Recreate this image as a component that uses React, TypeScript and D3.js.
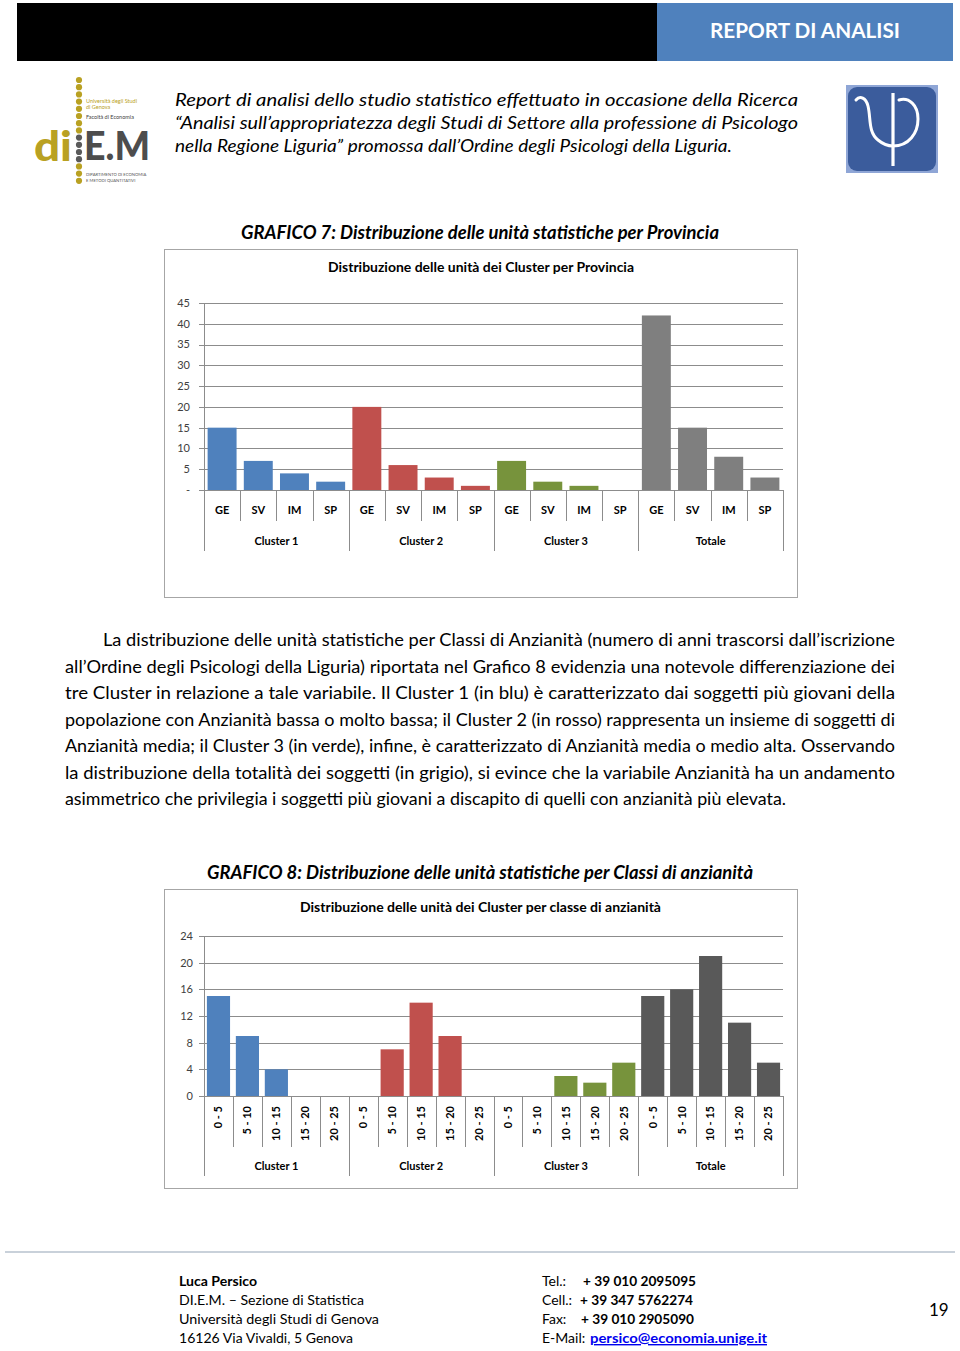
import React from "react";
import * as d3 from "d3";

// ---------- DATA ----------
const provinces = ["GE", "SV", "IM", "SP"];
const clusterGroups = ["Cluster 1", "Cluster 2", "Cluster 3", "Totale"];
const provCluster1 = [15, 7, 4, 2];
const provCluster2 = [20, 6, 3, 1];
const provCluster3 = [7, 2, 1, 0];
const provTotale = [42, 15, 8, 3];
const provTicks = [0, 5, 10, 15, 20, 25, 30, 35, 40, 45];

const ageClasses = ["0 - 5", "5 - 10", "10 - 15", "15 - 20", "20 - 25"];
const ageCluster1 = [15, 9, 4, 0, 0];
const ageCluster2 = [0, 7, 14, 9, 0];
const ageCluster3 = [0, 0, 3, 2, 5];
const ageTotale = [15, 16, 21, 11, 5];
const ageTicks = [0, 4, 8, 12, 16, 20, 24];

const headerLines = [
  "Report di analisi dello studio statistico effettuato in occasione della Ricerca",
  "\u201CAnalisi sull\u2019appropriatezza degli Studi di Settore alla professione di Psicologo",
  "nella Regione Liguria\u201D  promossa dall\u2019Ordine degli Psicologi della Liguria.",
];

const paragraphLines = [
  "La distribuzione delle unità statistiche per Classi di Anzianità (numero di anni trascorsi dall\u2019iscrizione",
  "all\u2019Ordine degli Psicologi della Liguria) riportata nel Grafico 8 evidenzia una notevole differenziazione dei",
  "tre Cluster in relazione a tale variabile. Il Cluster 1 (in blu) è caratterizzato dai soggetti più giovani della",
  "popolazione con Anzianità bassa o molto bassa; il Cluster 2 (in rosso) rappresenta un insieme di soggetti di",
  "Anzianità media; il Cluster 3 (in verde), infine, è caratterizzato di Anzianità media o medio alta. Osservando",
  "la distribuzione della totalità dei soggetti (in grigio), si evince che la variabile Anzianità ha un andamento",
  "asimmetrico che privilegia i soggetti  più giovani a discapito di quelli con anzianità più elevata.",
];

const FONT = "Lato, 'Open Sans', sans-serif";
const BLUE = "#4F81BD";
const RED = "#C0504D";
const GREEN = "#77933C";

type ChartProps = {
  cats: string[];
  groups: string[];
  series: number[][];
  colors: string[];
  ticks: number[];
  tickFmt: (v: number) => string;
  x0: number;
  x1: number;
  yTop: number;
  yBottom: number;
  tickLabelX: number;
  catTickBottom: number;
  groupTickBottom: number;
  catLabelY: number;
  groupLabelY: number;
  rotate: boolean;
};

function GroupedBarChart(p: ChartProps) {
  const flat = p.groups.flatMap((g, gi) =>
    p.cats.map((c, ci) => ({
      key: `${gi}-${ci}`,
      cat: c,
      gi,
      ci,
      value: p.series[gi][ci],
      color: p.colors[gi],
    }))
  );
  const pad = 0.2;
  const x = d3
    .scaleBand<string>()
    .domain(flat.map((d) => d.key))
    .range([p.x0, p.x1])
    .paddingInner(pad)
    .paddingOuter(pad / 2);
  const yMax = d3.max(p.ticks) as number;
  const y = d3.scaleLinear().domain([0, yMax]).range([p.yBottom, p.yTop]);
  const step = x.step();
  const n = flat.length;
  const gridColor = "#8c8c8c";
  const seps = d3.range(n + 1);
  return (
    <g>
      {p.ticks.map((t) => (
        <g key={t}>
          <line
            x1={p.x0 - 5}
            x2={p.x1}
            y1={Math.round(y(t)) + 0.5}
            y2={Math.round(y(t)) + 0.5}
            stroke={gridColor}
            strokeWidth={1}
          />
          <text
            x={p.tickLabelX}
            y={y(t)}
            dy="0.35em"
            textAnchor="end"
            fontSize={11}
            fill="#404040"
            fontFamily={FONT}
          >
            {p.tickFmt(t)}
          </text>
        </g>
      ))}
      <line
        x1={p.x0 + 0.5}
        x2={p.x0 + 0.5}
        y1={p.yTop}
        y2={p.yBottom}
        stroke={gridColor}
      />
      {flat.map((d) => (
        <rect
          key={d.key}
          x={x(d.key)}
          width={x.bandwidth()}
          y={y(d.value)}
          height={y(0) - y(d.value)}
          fill={d.color}
        />
      ))}
      {seps.map((i) => {
        const xx = Math.round(p.x0 + i * step) + 0.5;
        const isGroup = i % p.cats.length === 0;
        return (
          <line
            key={i}
            x1={xx}
            x2={xx}
            y1={p.yBottom}
            y2={isGroup ? p.groupTickBottom : p.catTickBottom}
            stroke={gridColor}
          />
        );
      })}
      {flat.map((d) => {
        const cx = (x(d.key) as number) + x.bandwidth() / 2;
        return p.rotate ? (
          <text
            key={"l" + d.key}
            transform={`translate(${cx},${p.catLabelY}) rotate(-90)`}
            textAnchor="end"
            dy="0.35em"
            fontSize={11}
            fontWeight="bold"
            fontFamily={FONT}
            fill="#000"
          >
            {d.cat}
          </text>
        ) : (
          <text
            key={"l" + d.key}
            x={cx}
            y={p.catLabelY}
            dy="0.35em"
            textAnchor="middle"
            fontSize={11}
            fontWeight="bold"
            fontFamily={FONT}
            fill="#000"
          >
            {d.cat}
          </text>
        );
      })}
      {p.groups.map((g, gi) => {
        const cx = p.x0 + (gi + 0.5) * p.cats.length * step;
        return (
          <text
            key={g}
            x={cx}
            y={p.groupLabelY}
            dy="0.35em"
            textAnchor="middle"
            fontSize={11}
            fontWeight="bold"
            fontFamily={FONT}
            fill="#000"
          >
            {g}
          </text>
        );
      })}
    </g>
  );
}

function DiemLogo() {
  const dots = d3.range(15).map((i) => 80 + i * 7.2);
  return (
    <g>
      {dots.map((cy, i) => (
        <circle
          key={i}
          cx={79}
          cy={cy}
          r={3.1}
          fill={i >= 8 && i <= 11 ? "#5a5a5a" : "#b9a122"}
        />
      ))}
      <text x={86} y={103} fontSize={5.5} fill="#b9a122" fontFamily={FONT}>
        Università degli Studi
      </text>
      <text x={86} y={109} fontSize={5.5} fill="#b9a122" fontFamily={FONT}>
        di Genova
      </text>
      <text x={86} y={119} fontSize={5.5} fill="#444" fontFamily={FONT}>
        Facoltà di Economia
      </text>
      <text
        x={34}
        y={161}
        fontSize={42}
        fontWeight={900}
        fill="#b9a122"
        fontFamily={FONT}
        textLength={38}
        lengthAdjust="spacingAndGlyphs"
      >
        di
      </text>
      <text
        x={84}
        y={160}
        fontSize={40}
        fontWeight={900}
        fill="#4d4d4d"
        fontFamily={FONT}
        textLength={66}
        lengthAdjust="spacingAndGlyphs"
      >
        E.M
      </text>
      <text x={86} y={176} fontSize={4.2} fill="#555" fontFamily={FONT}>
        DIPARTIMENTO DI ECONOMIA
      </text>
      <text x={86} y={182} fontSize={4.2} fill="#555" fontFamily={FONT}>
        E METODI QUANTITATIVI
      </text>
    </g>
  );
}

function PsiLogo() {
  return (
    <g>
      <rect x={846} y={85} width={92} height={88} fill="#8fa6d6" />
      <rect x={848} y={87} width={88} height={84} rx={9} fill="#3b5c9c" />
      <path
        d="M856 100 C860 95 866 98 868 106 C871 118 868 132 878 140 C884 145 890 146 893 146 C909 146 918 133 918 119 C918 105 909 97 899 100"
        fill="none"
        stroke="#ffffff"
        strokeWidth={3}
        strokeLinecap="round"
      />
      <line x1={893} x2={893} y1={93} y2={166} stroke="#fff" strokeWidth={3.2} />
    </g>
  );
}

export default function App() {
  return (
    <div>
      <style>{`body{margin:0;background:#fff}`}</style>
      <svg
        width={960}
        height={1351}
        viewBox="0 0 960 1351"
        style={{ display: "block", background: "#fff" }}
      >
        {/* Header */}
        <rect x={17} y={3} width={640} height={58} fill="#000" />
        <rect x={657} y={3} width={296} height={58} fill={BLUE} />
        <text
          x={805}
          y={38}
          textAnchor="middle"
          fontSize={21}
          fontWeight="bold"
          fill="#fff"
          fontFamily={FONT}
          textLength={190}
          lengthAdjust="spacingAndGlyphs"
        >
          REPORT DI ANALISI
        </text>

        <DiemLogo />
        <PsiLogo />

        {headerLines.map((l, i) => (
          <text
            key={i}
            x={175}
            y={106 + i * 23}
            fontSize={17}
            fontStyle="italic"
            fill="#000"
            fontFamily={FONT}
            textLength={i < 2 ? 623 : 557}
            lengthAdjust="spacingAndGlyphs"
          >
            {l}
          </text>
        ))}

        {/* Chart 1 */}
        <text
          x={480}
          y={239}
          textAnchor="middle"
          fontSize={18}
          fontWeight="bold"
          fontStyle="italic"
          fontFamily={FONT}
          fill="#000"
          textLength={478}
          lengthAdjust="spacingAndGlyphs"
        >
          GRAFICO 7: Distribuzione delle unità statistiche per Provincia
        </text>
        <rect
          x={164.5}
          y={249.5}
          width={633}
          height={348}
          fill="#fff"
          stroke="#a6a6a6"
        />
        <text
          x={481}
          y={272}
          textAnchor="middle"
          fontSize={13}
          fontWeight="bold"
          fontFamily={FONT}
          fill="#000"
          textLength={306}
          lengthAdjust="spacingAndGlyphs"
        >
          Distribuzione delle unità dei Cluster per Provincia
        </text>
        <GroupedBarChart
          cats={provinces}
          groups={clusterGroups}
          series={[provCluster1, provCluster2, provCluster3, provTotale]}
          colors={[BLUE, RED, GREEN, "#7f7f7f"]}
          ticks={provTicks}
          tickFmt={(v) => (v === 0 ? "-" : String(v))}
          x0={204}
          x1={783}
          yTop={303}
          yBottom={490}
          tickLabelX={190}
          catTickBottom={521}
          groupTickBottom={551}
          catLabelY={510}
          groupLabelY={541}
          rotate={false}
        />

        {/* Paragraph */}
        {paragraphLines.map((l, i) => {
          const x = i === 0 ? 103 : 65;
          const w = i === 0 ? 792 : i === paragraphLines.length - 1 ? 721 : 830;
          return (
            <text
              key={i}
              x={x}
              y={646 + i * 26.5}
              fontSize={17}
              fill="#000"
              fontFamily={FONT}
              textLength={w}
              lengthAdjust="spacingAndGlyphs"
            >
              {l}
            </text>
          );
        })}

        {/* Chart 2 */}
        <text
          x={480}
          y={879}
          textAnchor="middle"
          fontSize={18}
          fontWeight="bold"
          fontStyle="italic"
          fontFamily={FONT}
          fill="#000"
          textLength={546}
          lengthAdjust="spacingAndGlyphs"
        >
          GRAFICO 8: Distribuzione delle unità statistiche per Classi di anzianità
        </text>
        <rect
          x={164.5}
          y={889.5}
          width={633}
          height={299}
          fill="#fff"
          stroke="#a6a6a6"
        />
        <text
          x={480.5}
          y={912}
          textAnchor="middle"
          fontSize={13}
          fontWeight="bold"
          fontFamily={FONT}
          fill="#000"
          textLength={361}
          lengthAdjust="spacingAndGlyphs"
        >
          Distribuzione delle unità dei Cluster per classe di anzianità
        </text>
        <GroupedBarChart
          cats={ageClasses}
          groups={clusterGroups}
          series={[ageCluster1, ageCluster2, ageCluster3, ageTotale]}
          colors={[BLUE, RED, GREEN, "#595959"]}
          ticks={ageTicks}
          tickFmt={(v) => String(v)}
          x0={204}
          x1={783}
          yTop={936}
          yBottom={1096}
          tickLabelX={193}
          catTickBottom={1147}
          groupTickBottom={1176}
          catLabelY={1106}
          groupLabelY={1166}
          rotate={true}
        />

        {/* Footer */}
        <line x1={5} x2={955} y1={1252} y2={1252} stroke="#c9d1da" strokeWidth={2} />
        <g fontFamily={FONT} fontSize={14} fill="#000">
          <text x={179} y={1286} fontWeight="bold" textLength={78} lengthAdjust="spacingAndGlyphs">
            Luca Persico
          </text>
          <text x={179} y={1305} textLength={185} lengthAdjust="spacingAndGlyphs">
            DI.E.M. – Sezione di Statistica
          </text>
          <text x={179} y={1324} textLength={200} lengthAdjust="spacingAndGlyphs">
            Università degli Studi di Genova
          </text>
          <text x={179} y={1343} textLength={174} lengthAdjust="spacingAndGlyphs">
            16126 Via Vivaldi, 5 Genova
          </text>

          <text x={542} y={1286}>Tel.:</text>
          <text x={583} y={1286} fontWeight="bold" textLength={113} lengthAdjust="spacingAndGlyphs">
            + 39 010 2095095
          </text>
          <text x={542} y={1305}>Cell.:</text>
          <text x={580} y={1305} fontWeight="bold" textLength={113} lengthAdjust="spacingAndGlyphs">
            + 39 347 5762274
          </text>
          <text x={542} y={1324}>Fax:</text>
          <text x={581} y={1324} fontWeight="bold" textLength={113} lengthAdjust="spacingAndGlyphs">
            + 39 010 2905090
          </text>
          <text x={542} y={1343}>E-Mail:</text>
          <text
            x={590}
            y={1343}
            fontWeight="bold"
            fill="#0000ee"
            textDecoration="underline"
            textLength={177}
            lengthAdjust="spacingAndGlyphs"
          >
            persico@economia.unige.it
          </text>
          <text x={929} y={1316} fontSize={17}>
            19
          </text>
        </g>
      </svg>
    </div>
  );
}
